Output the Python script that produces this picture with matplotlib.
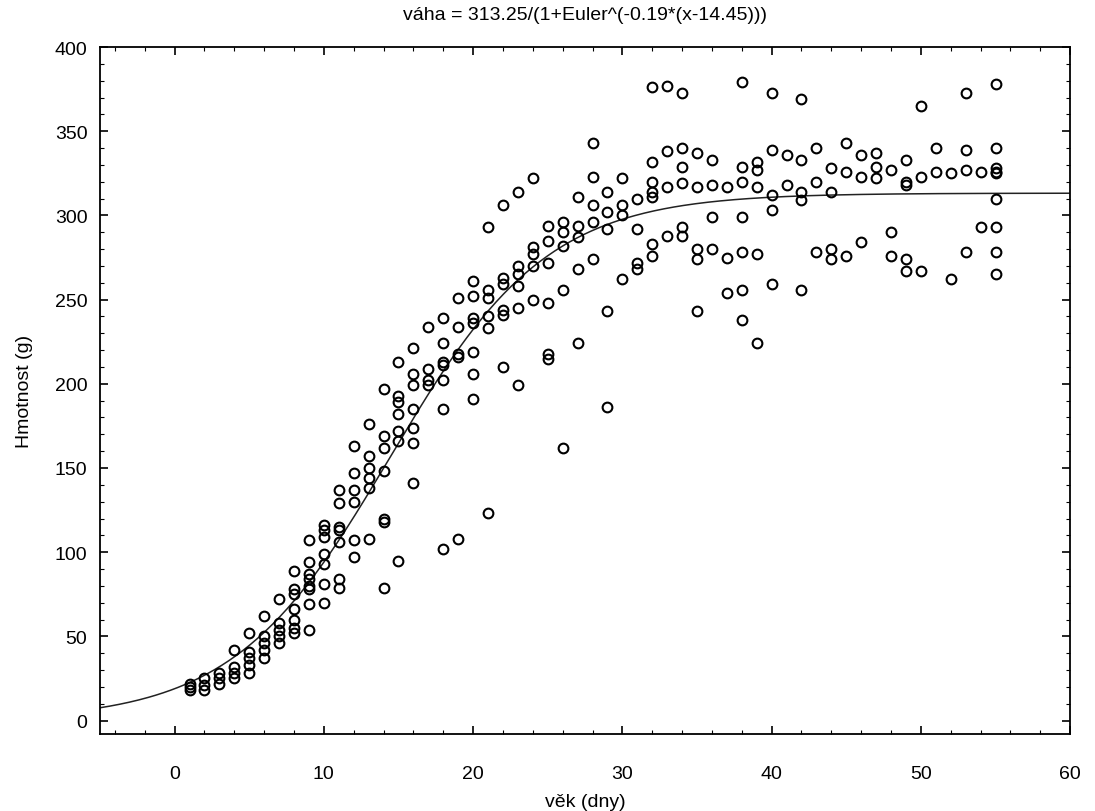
import numpy as np
import matplotlib
matplotlib.use("Agg")
import matplotlib.pyplot as plt
from matplotlib.ticker import MultipleLocator

plt.rcParams["font.family"] = ["Liberation Sans", "DejaVu Sans"]

# measured weights per age (days)
weights_by_day = {
    1: [22, 20, 18],
    2: [25, 21, 18],
    3: [28, 25, 22],
    4: [42, 32, 28, 25],
    5: [52, 41, 37, 33, 28],
    6: [62, 50, 46, 42, 37],
    7: [72, 58, 54, 50, 46],
    8: [89, 78, 75, 66, 60, 55, 52],
    9: [107, 94, 87, 84, 80, 78, 69, 54],
    10: [116, 113, 109, 99, 93, 81, 70],
    11: [137, 129, 115, 113, 106, 84, 79],
    12: [163, 147, 137, 130, 107, 97],
    13: [176, 157, 150, 144, 138, 108],
    14: [197, 169, 162, 148, 120, 118, 79],
    15: [213, 193, 189, 182, 172, 166, 95],
    16: [221, 206, 199, 185, 174, 165, 141],
    17: [234, 209, 202, 199],
    18: [239, 224, 213, 211, 202, 185, 102],
    19: [251, 234, 218, 216, 108],
    20: [261, 252, 239, 236, 219, 206, 191],
    21: [293, 256, 251, 240, 233, 123],
    22: [306, 263, 259, 244, 241, 210],
    23: [314, 270, 265, 258, 245, 199],
    24: [322, 281, 277, 270, 250],
    25: [294, 285, 272, 248, 218, 215],
    26: [296, 290, 282, 256, 162],
    27: [311, 294, 287, 268, 224],
    28: [343, 323, 306, 296, 274],
    29: [314, 302, 292, 243, 186],
    30: [322, 306, 300, 262],
    31: [310, 292, 272, 268],
    32: [376, 332, 320, 314, 311, 283, 276],
    33: [377, 338, 317, 288],
    34: [373, 340, 329, 319, 293, 288],
    35: [337, 317, 280, 274, 243],
    36: [333, 318, 299, 280],
    37: [317, 275, 254],
    38: [379, 329, 320, 299, 278, 256, 238],
    39: [332, 327, 317, 277, 224],
    40: [373, 339, 312, 303, 259],
    41: [336, 318],
    42: [369, 333, 314, 309, 256],
    43: [340, 320, 278],
    44: [328, 314, 280, 274],
    45: [343, 326, 276],
    46: [336, 323, 284],
    47: [337, 329, 322],
    48: [327, 290, 276],
    49: [333, 320, 318, 274, 267],
    50: [365, 323, 267],
    51: [340, 326],
    52: [325, 262],
    53: [373, 339, 327, 278],
    54: [326, 293],
    55: [378, 340, 328, 326, 325, 310, 293, 278, 265],
}

# fitted logistic model from the title
a, k, x0 = 313.25, 0.19, 14.45

age = np.concatenate([[d] * len(w) for d, w in weights_by_day.items()])
weight = np.concatenate(list(weights_by_day.values()))

fig = plt.figure(figsize=(10.95, 8.12), dpi=100)
ax = fig.add_axes([0.0913, 0.0948, 0.886, 0.846])

xs = np.linspace(-5, 60, 400)
ax.plot(xs, a / (1 + np.exp(-k * (xs - x0))), color="#222222", lw=1.1)
ax.plot(age, weight, "o", mfc="none", mec="black", mew=1.5, ms=7)

ax.set_xlim(-5, 60)
ax.set_ylim(-8, 400)
ax.xaxis.set_major_locator(MultipleLocator(10))
ax.xaxis.set_minor_locator(MultipleLocator(2))
ax.yaxis.set_major_locator(MultipleLocator(50))
ax.yaxis.set_minor_locator(MultipleLocator(10))
ax.tick_params(which="both", direction="in", top=True, right=True, labelsize=14)
ax.tick_params(axis="x", which="major", pad=22)
ax.tick_params(axis="y", which="major", pad=9)
ax.tick_params(which="major", length=6, width=1.2)
ax.tick_params(which="minor", length=3, width=0.8)
for s in ax.spines.values():
    s.set_linewidth(1.3)

ax.set_xlabel("věk (dny)", fontsize=14, labelpad=8)
ax.set_ylabel("Hmotnost (g)", fontsize=14, labelpad=16)
ax.set_title("váha = 313.25/(1+Euler^(-0.19*(x-14.45)))", fontsize=14, pad=20)

fig.savefig("out.png", dpi=100)
